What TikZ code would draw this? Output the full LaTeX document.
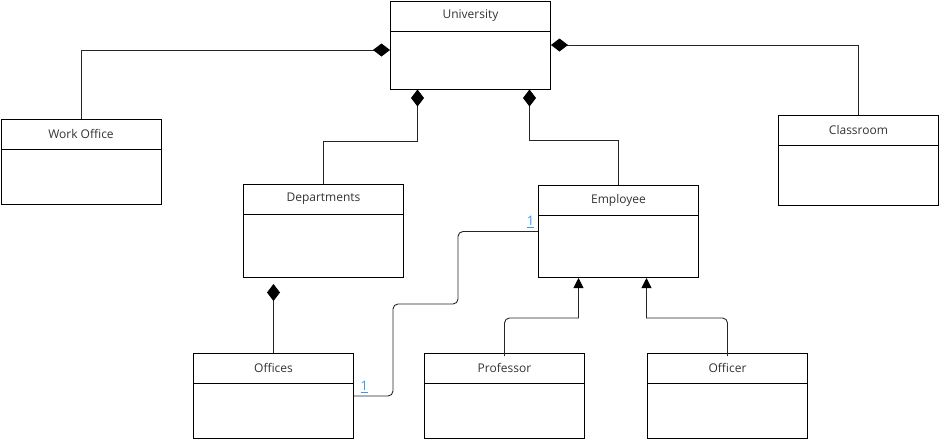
\documentclass[tikz,border=0pt]{standalone}
\usepackage{fontspec}
\setmainfont{Open Sans}
\usepackage{tikz}
\usetikzlibrary{arrows.meta}

\definecolor{namegray}{HTML}{333333}
\definecolor{multblue}{HTML}{3399FF}

\tikzset{
    umlclass/.style={draw, line width=1pt, anchor=north west, minimum width=160pt, inner sep=0pt,
        path picture={\draw[line width=1pt] ([yshift=-30pt]path picture bounding box.north west) -- ([yshift=-30pt]path picture bounding box.north east);}},
    classname/.style={anchor=center, yshift=-15pt, text=namegray, font=\fontsize{12}{14}\selectfont},
    compo/.style={line width=0.9pt, draw=black!85, -{Diamond[length=17pt, width=13pt, color=black]}},
    gener/.style={line width=0.9pt, draw=black!85, -{Triangle[length=10pt, width=10pt, color=black]}},
    assoc/.style={line width=0.9pt, draw=black!85, rounded corners=5pt},
    mult/.style={text=multblue, font=\fontsize{13}{15}\selectfont}
}

\begin{document}
\begin{tikzpicture}[x=1pt, y=-1pt]
            \useasboundingbox (0,0) rectangle (939,439);

            \node[umlclass, minimum height=88pt, label={[classname]north:University}] (university) at (390,0.5) {};
            \node[umlclass, minimum height=85pt, label={[classname]north:Work Office}] (workoffice) at (0.5,119) {};
            \node[umlclass, minimum height=90pt, label={[classname]north:Classroom}] (classroom) at (778,115) {};
            \node[umlclass, minimum height=93pt, label={[classname]north:Departments}] (departments) at (243,184) {};
            \node[umlclass, minimum height=92pt, label={[classname]north:Employee}] (employee) at (538,185) {};
            \node[umlclass, minimum height=85pt, label={[classname]north:Offices}] (offices) at (193,353) {};
            \node[umlclass, minimum height=85pt, label={[classname]north:Professor}] (professor) at (424,353) {};
            \node[umlclass, minimum height=85pt, label={[classname]north:Officer}] (officer) at (647,353) {};

            \draw[compo] (workoffice.north) |- ([yshift=-5pt]university.west);
            \draw[compo] (classroom.north) |- (university.east);
            \draw[compo] (departments.north) -- ++(0,-43) -| ([xshift=-53pt]university.south);
            \draw[compo] (employee.north) -- ++(0,-45) -| ([xshift=59pt]university.south);
            \draw[compo, shorten >=6pt] (offices.north) -- (offices.north |- departments.south);

            \draw[assoc] (offices.east) -- ++(39,0) -- ++(0,-92) -- ++(65,0) |- (employee.west)
                node[mult, pos=1, above left] (multemp) {\underline{1}};
            \node[mult, above right, xshift=3pt] (multoff) at (offices.east) {\underline{1}};

            \draw[gener] ([yshift=-3pt]professor.north) [rounded corners=5pt] -- ++(0,-38) [sharp corners] -| ([xshift=-40pt]employee.south);
            \draw[gener] ([yshift=-3pt]officer.north) [rounded corners=5pt] -- ++(0,-38) [sharp corners] -| ([xshift=28pt]employee.south);
        \end{tikzpicture}
\end{document}
